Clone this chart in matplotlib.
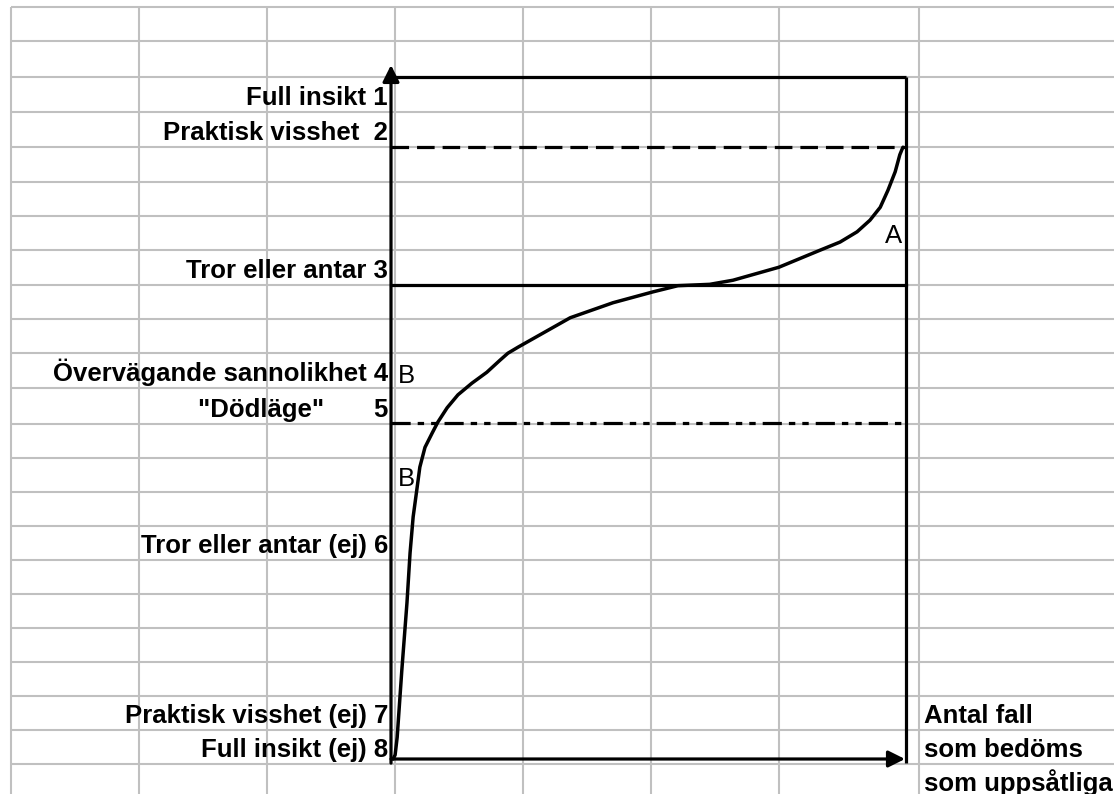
import matplotlib
matplotlib.use('Agg')
import matplotlib.pyplot as plt

# spreadsheet cell grid behind the chart (pixel positions)
col_edges = [11, 139, 267, 395, 523, 651, 779, 919]
row_edges = [7, 41, 77, 112, 147, 182, 216, 250, 285, 319, 353, 388,
             424, 458, 492, 526, 560, 594, 628, 662, 696, 730, 764, 798]

# cell texts left of the y axis, and the row each one sits in
level_labels = ['Full insikt 1', 'Praktisk visshet  2', 'Tror eller antar 3',
                'Övervägande sannolikhet 4', '"Dödläge"       5',
                'Tror eller antar (ej) 6', 'Praktisk visshet (ej) 7',
                'Full insikt (ej) 8']
level_rows = [2, 3, 7, 10, 11, 15, 20, 21]

# cell texts right of the chart (x axis caption)
xcap_labels = ['Antal fall', 'som bedöms', 'som uppsåtliga']
xcap_rows = [20, 21, 22]

# the curve: x = share of cases, y = degree of certainty (0..1 inside the chart)
curve_x = [0.004, 0.008, 0.012, 0.021, 0.031, 0.037, 0.043, 0.050, 0.056,
           0.066, 0.080, 0.091, 0.109, 0.130, 0.157, 0.186, 0.212, 0.227,
           0.247, 0.348, 0.431, 0.509, 0.557, 0.619, 0.664, 0.753, 0.833,
           0.872, 0.905, 0.930, 0.950, 0.965, 0.979, 0.988, 0.994]
curve_y = [0.000, 0.006, 0.032, 0.130, 0.229, 0.302, 0.355, 0.394, 0.428,
           0.457, 0.478, 0.494, 0.515, 0.534, 0.551, 0.567, 0.585, 0.595,
           0.604, 0.647, 0.669, 0.685, 0.694, 0.696, 0.702, 0.721, 0.746,
           0.758, 0.773, 0.790, 0.809, 0.834, 0.861, 0.886, 0.897]

# horizontal reference lines (level 2, 3 and 5)
ref_y = [0.897, 0.695, 0.493]
ref_dash = [(0, (5.5, 2.5)), 'solid', (0, (6, 2.2, 2, 2.2, 2, 2.2))]

# curve letters
mark_text = ['A', 'B', 'B']
mark_x = [0.992, 0.014, 0.014]
mark_y = [0.757, 0.551, 0.400]
mark_ha = ['right', 'left', 'left']

W, H = 1114, 794
fig = plt.figure(figsize=(W / 100, H / 100), dpi=100)
fig.patch.set_facecolor('white')

bg = fig.add_axes([0, 0, 1, 1])
bg.set_xlim(0, W)
bg.set_ylim(H, 0)
bg.axis('off')

grid_c = '#c0c0c0'
bg.hlines(row_edges, col_edges[0], W, color=grid_c, lw=1.5)
bg.vlines(col_edges, row_edges[0], H, color=grid_c, lw=1.5)

font = 'Liberation Sans'
fs = 18.5
for lab, r in zip(level_labels, level_rows):
    bg.text(388, row_edges[r + 1] - 7, lab, ha='right', va='baseline',
            fontsize=fs, fontweight='bold', family=font)
for lab, r in zip(xcap_labels, xcap_rows):
    bg.text(924, row_edges[r + 1] - 7, lab, ha='left', va='baseline',
            fontsize=fs, fontweight='bold', family=font)

# chart area placed over the cells
left, right, top, bottom = 391, 906, 77, 759
ax = fig.add_axes([left / W, 1 - bottom / H, (right - left) / W, (bottom - top) / H])
ax.set_xlim(0, 1)
ax.set_ylim(0, 1)
ax.axis('off')
ax.patch.set_alpha(0)

lw = 2.3
# frame: top and right sides
ax.plot([0, 1], [1, 1], color='k', lw=lw, clip_on=False, solid_capstyle='butt')
ax.plot([1, 1], [-0.006, 1], color='k', lw=lw, clip_on=False, solid_capstyle='butt')
# axes with arrows
arrow = dict(arrowstyle='-|>,head_length=0.5,head_width=0.25', mutation_scale=20,
             color='k', lw=lw, shrinkA=0, shrinkB=0)
ax.annotate('', xy=(0, 1.0176), xytext=(0, -0.006), arrowprops=arrow,
            annotation_clip=False)
ax.annotate('', xy=(0.998, 0), xytext=(0, 0), arrowprops=arrow,
            annotation_clip=False)

for yv, ds in zip(ref_y, ref_dash):
    ax.plot([0, 1], [yv, yv], color='k', lw=lw, linestyle=ds, clip_on=False,
            dash_capstyle='butt')

ax.plot(curve_x, curve_y, color='k', lw=2.5, clip_on=False,
        solid_joinstyle='round', solid_capstyle='round')

for t, xv, yv, ha in zip(mark_text, mark_x, mark_y, mark_ha):
    ax.text(xv, yv, t, ha=ha, va='baseline', fontsize=fs, family=font)

fig.savefig('out.png', dpi=100)
